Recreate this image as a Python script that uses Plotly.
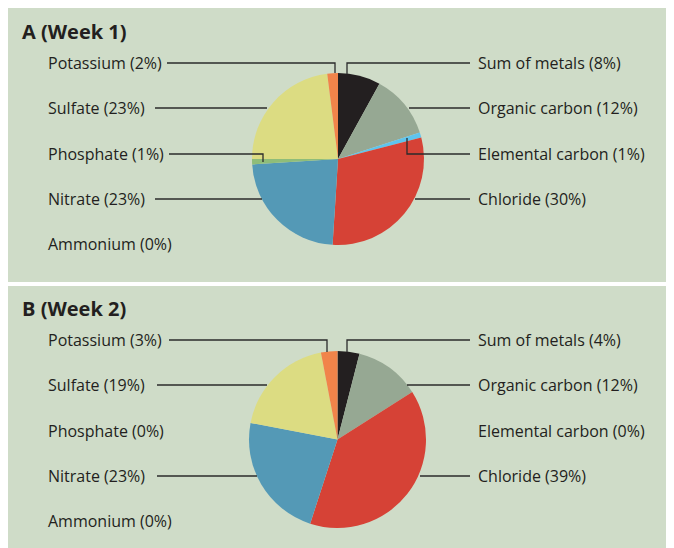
import plotly.graph_objects as go

# The page body has an 8px margin, so the figure is drawn 8px right/down.
OFF = 8
W, H = 674 - OFF, 548 - OFF

components = ["Sum of metals", "Organic carbon", "Elemental carbon", "Chloride",
              "Ammonium", "Nitrate", "Phosphate", "Sulfate", "Potassium"]
week1 = [8, 12, 1, 30, 0, 23, 1, 23, 2]
week2 = [4, 12, 0, 39, 0, 23, 0, 19, 3]
colors = ["#231f20", "#96a893", "#5ec4ee", "#d64236", "#c9c9c9",
          "#5499b6", "#8fbd79", "#dcdc82", "#f1844a"]
titles = ["A (Week 1)", "B (Week 2)"]

left_names = ["Potassium", "Sulfate", "Phosphate", "Nitrate", "Ammonium"]
right_names = ["Sum of metals", "Organic carbon", "Elemental carbon", "Chloride"]

def px(x):
    return (x - OFF) / W

def py(y):
    return 1 - (y - OFF) / H

fig = go.Figure()

panels = [
    dict(vals=week1, cx=338, cy=159, r=86, top=8, bottom=282, title_y=31,
         rows=[63, 108, 154, 199, 244]),
    dict(vals=week2, cx=337.5, cy=439.5, r=88.5, top=286, bottom=560, title_y=308,
         rows=[340, 385, 431, 476, 521]),
]

shapes = []
annotations = []
for p, t in zip(panels, titles):
    shapes.append(dict(type="rect", xref="paper", yref="paper",
                       x0=px(OFF), x1=px(680), y0=py(p["bottom"]), y1=py(p["top"]),
                       fillcolor="#cfdcc8", line=dict(width=0), layer="below"))
    fig.add_trace(go.Pie(
        labels=components, values=p["vals"], sort=False, direction="clockwise",
        rotation=0, marker=dict(colors=colors, line=dict(width=0)),
        textinfo="none", hoverinfo="label+percent", showlegend=False,
        domain=dict(x=[px(p["cx"] - p["r"]), px(p["cx"] + p["r"])],
                    y=[py(p["cy"] + p["r"]), py(p["cy"] - p["r"])]),
    ))
    annotations.append(dict(text="<b>" + t + "</b>", xref="paper", yref="paper",
                            x=px(20), y=py(p["title_y"]), xanchor="left", yanchor="middle",
                            showarrow=False, font=dict(size=20, color="#231f20")))
    vals = dict(zip(components, p["vals"]))
    for name, row in zip(left_names, p["rows"]):
        annotations.append(dict(text=f"{name} ({vals[name]}%)", xref="paper", yref="paper",
                                x=px(46), y=py(row), xanchor="left", yanchor="middle",
                                showarrow=False, font=dict(size=16, color="#231f20")))
    for name, row in zip(right_names, p["rows"]):
        annotations.append(dict(text=f"{name} ({vals[name]}%)", xref="paper", yref="paper",
                                x=px(476), y=py(row), xanchor="left", yanchor="middle",
                                showarrow=False, font=dict(size=16, color="#231f20")))

# leader lines (pixel paths)
leaders = [
    # panel A
    [(167, 63), (335, 63), (335, 73)],
    [(155, 108), (267, 108)],
    [(169, 154), (263, 154), (263, 162)],
    [(155, 199), (262, 199)],
    [(347, 74), (347, 63), (470, 63)],
    [(409, 108), (470, 108)],
    [(407, 138), (407, 154), (470, 154)],
    [(415, 199), (470, 199)],
    # panel B
    [(169, 340), (327, 340), (327, 352)],
    [(157, 385), (267, 385)],
    [(157, 476), (257, 476)],
    [(347, 352), (347, 340), (470, 340)],
    [(407, 385), (470, 385)],
    [(420, 476), (470, 476)],
]
for pts in leaders:
    path = "M " + " L ".join(f"{px(x)},{py(y)}" for x, y in pts)
    shapes.append(dict(type="path", xref="paper", yref="paper", path=path,
                       line=dict(color="#2b2b2b", width=1.3), layer="above"))

fig.update_layout(
    width=W, height=H, margin=dict(l=0, r=0, t=0, b=0),
    paper_bgcolor="white", plot_bgcolor="white",
    font=dict(family="Open Sans, sans-serif", color="#231f20"),
    shapes=shapes, annotations=annotations,
)

fig.write_html("out.html")
